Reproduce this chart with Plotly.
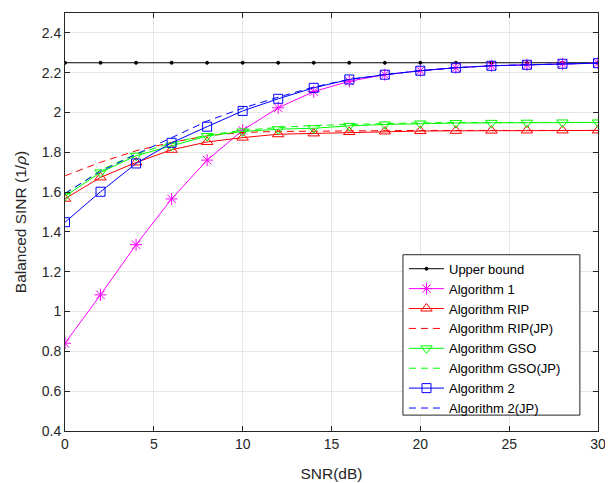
import plotly.graph_objects as go

snr = [0, 2, 4, 6, 8, 10, 12, 14, 16, 18, 20, 22, 24, 26, 28, 30]

upper_bound = [2.25] * 16
alg1 = [0.841, 1.084, 1.336, 1.566, 1.761, 1.911, 2.024, 2.105, 2.157, 2.19, 2.21, 2.225, 2.235, 2.24, 2.245, 2.248]
alg_rip = [1.567, 1.674, 1.749, 1.813, 1.852, 1.874, 1.891, 1.895, 1.902, 1.905, 1.907, 1.908, 1.909, 1.91, 1.91, 1.91]
alg_rip_jp = [1.682, 1.75, 1.808, 1.85, 1.883, 1.9, 1.905, 1.907, 1.908, 1.909, 1.91, 1.91, 1.91, 1.91, 1.91, 1.91]
alg_gso = [1.58, 1.699, 1.783, 1.833, 1.882, 1.905, 1.916, 1.921, 1.933, 1.94, 1.945, 1.947, 1.948, 1.949, 1.95, 1.95]
alg_gso_jp = [1.59, 1.71, 1.792, 1.847, 1.887, 1.91, 1.925, 1.935, 1.94, 1.945, 1.948, 1.95, 1.95, 1.95, 1.95, 1.95]
alg2 = [1.449, 1.602, 1.744, 1.848, 1.929, 2.008, 2.069, 2.124, 2.166, 2.19, 2.21, 2.225, 2.235, 2.24, 2.245, 2.248]
alg2_jp = [1.594, 1.705, 1.79, 1.872, 1.957, 2.022, 2.077, 2.128, 2.167, 2.19, 2.21, 2.225, 2.235, 2.24, 2.245, 2.248]

y_tickvals = [0.4, 0.6, 0.8, 1.0, 1.2, 1.4, 1.6, 1.8, 2.0, 2.2, 2.4]
y_ticktext = ["0.4", "0.6", "0.8", "1", "1.2", "1.4", "1.6", "1.8", "2", "2.2", "2.4"]
x_tickvals = [0, 5, 10, 15, 20, 25, 30]

fig = go.Figure()

def add(name, y, color, symbol=None, size=9, dash="solid"):
    mode = "lines+markers" if symbol else "lines"
    kw = dict(x=snr, y=y, name=name, mode=mode,
              line=dict(color=color, width=1, dash=dash))
    if symbol:
        kw["marker"] = dict(symbol=symbol, size=size, color=color,
                            line=dict(color=color, width=1))
    fig.add_trace(go.Scatter(**kw))

add("Upper bound", upper_bound, "#000000", "circle", 3)
add("Algorithm 1", alg1, "#ff00ff", "asterisk-open", 10)
add("Algorithm RIP", alg_rip, "#ff0000", "triangle-up-open", 10)
add("Algorithm RIP(JP)", alg_rip_jp, "#ff0000", None, dash="7px,5px")
add("Algorithm GSO", alg_gso, "#00ff00", "triangle-down-open", 10)
add("Algorithm GSO(JP)", alg_gso_jp, "#00ff00", None, dash="7px,5px")
add("Algorithm 2", alg2, "#0000ff", "square-open", 9)
add("Algorithm 2(JP)", alg2_jp, "#0000ff", None, dash="7px,5px")

axis_common = dict(
    showline=True, linecolor="#262626", linewidth=1, mirror="ticks",
    ticks="inside", ticklen=5, tickcolor="#262626", automargin=False,
    showgrid=True, gridcolor="#e6e6e6", gridwidth=1, zeroline=False,
    tickfont=dict(family="Liberation Sans, Arial", size=14, color="#262626"),
)

fig.update_layout(
    width=605, height=475,
    margin=dict(l=57, r=15, t=5, b=51.5),
    paper_bgcolor="white", plot_bgcolor="white",
    font=dict(family="Liberation Sans, Arial", size=14, color="#262626"),
    xaxis=dict(range=[0, 30], tickvals=x_tickvals,
               title=dict(text="SNR(dB)", font=dict(size=15.5), standoff=17),
               **axis_common),
    yaxis=dict(range=[0.4, 2.5], tickvals=y_tickvals, ticktext=y_ticktext,
               title=dict(text="Balanced SINR (1/<i>ρ</i>)", font=dict(size=15.5), standoff=11),
               **axis_common),
    legend=dict(x=0.636, y=0.424, xanchor="left", yanchor="top",
                bgcolor="rgba(0,0,0,0)", borderwidth=0,
                font=dict(size=13, color="#000000"), itemwidth=35,
                tracegroupgap=0),
    shapes=[dict(type="rect", xref="paper", yref="paper",
                 x0=0.634, x1=0.966, y0=0.038, y1=0.4217,
                 fillcolor="white", line=dict(color="#262626", width=1),
                 layer="above")],
    showlegend=True,
)

fig.write_html("out.html")
